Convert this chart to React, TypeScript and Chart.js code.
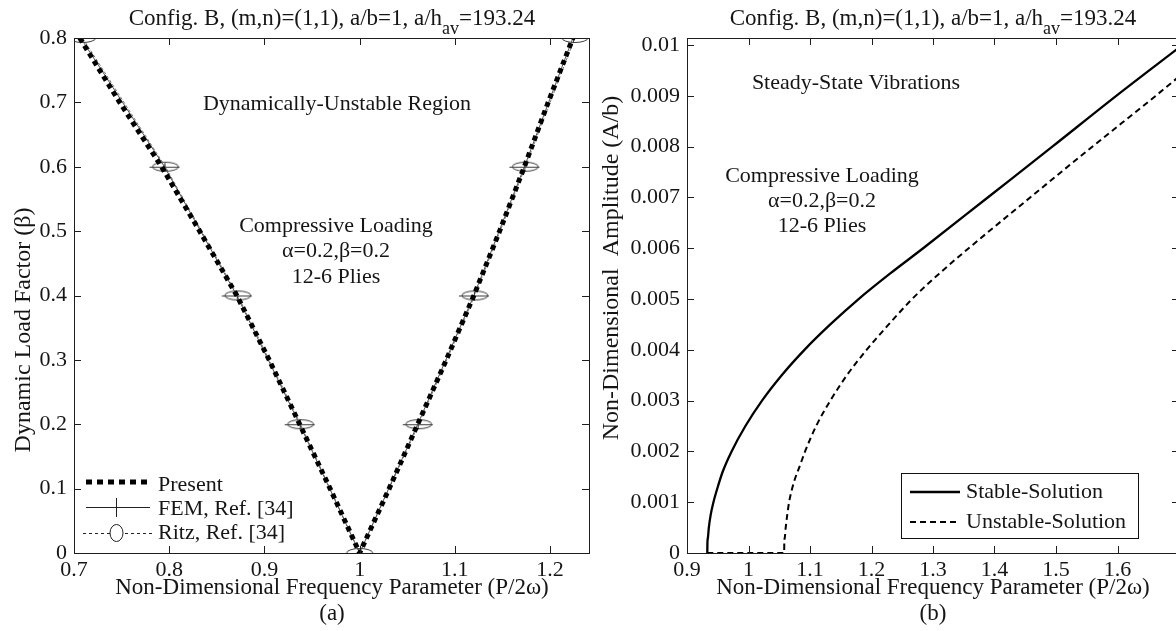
import React, { useEffect, useRef } from "react";
import { Chart, registerables } from "chart.js";

Chart.register(...registerables);

const SERIF = "'Liberation Serif', 'Times New Roman', Times, serif";

// ---------- Panel (a): instability boundaries ----------
const presentFreq = [0.706, 0.748, 0.792, 0.832, 0.871, 0.905, 0.937, 0.969, 1.0, 1.031, 1.061, 1.091, 1.12, 1.147, 1.173, 1.198, 1.224];
const presentBeta = [0.8, 0.7, 0.6, 0.5, 0.4, 0.3, 0.2, 0.1, 0.0, 0.1, 0.2, 0.3, 0.4, 0.5, 0.6, 0.7, 0.8];
const femFreq = [0.707, 0.795, 0.871, 0.937, 1.0, 1.061, 1.12, 1.173, 1.224];
const femBeta = [0.8, 0.6, 0.4, 0.2, 0.0, 0.2, 0.4, 0.6, 0.8];
const ritzFreq = [0.709, 0.796, 0.872, 0.938, 1.0, 1.062, 1.121, 1.174, 1.226];
const ritzBeta = [0.8, 0.6, 0.4, 0.2, 0.0, 0.2, 0.4, 0.6, 0.8];
const aXTicks = [0.7, 0.8, 0.9, 1.0, 1.1, 1.2];
const aXTickLabels = ["0.7", "0.8", "0.9", "1", "1.1", "1.2"];
const aYTicks = [0, 0.1, 0.2, 0.3, 0.4, 0.5, 0.6, 0.7, 0.8];
const aYTickLabels = ["0", "0.1", "0.2", "0.3", "0.4", "0.5", "0.6", "0.7", "0.8"];

// ---------- Panel (b): steady-state amplitude ----------
const stableFreq = [0.933, 0.9332, 0.934, 0.9355, 0.9385, 0.943, 0.95, 0.958, 0.9725, 0.995, 1.022, 1.054, 1.091, 1.133, 1.179, 1.23, 1.284, 1.389, 1.494, 1.598, 1.7];
const stableAmp = [0, 0.0002, 0.0003, 0.0005, 0.00075, 0.001, 0.0013, 0.0016, 0.002, 0.0025, 0.003, 0.0035, 0.004, 0.0045, 0.005, 0.0055, 0.006, 0.007, 0.008, 0.009, 0.00995];
const unstableFreq = [0.933, 1.058, 1.0582, 1.059, 1.0605, 1.063, 1.066, 1.074, 1.083, 1.092, 1.11, 1.133, 1.16, 1.192, 1.228, 1.266, 1.31, 1.358, 1.458, 1.559, 1.662, 1.7];
const unstableAmp = [0, 0, 0.0002, 0.0003, 0.0005, 0.00075, 0.001, 0.0014, 0.0017, 0.002, 0.0025, 0.003, 0.0035, 0.004, 0.0045, 0.005, 0.0055, 0.006, 0.007, 0.008, 0.009, 0.00938];
const bXTicks = [0.9, 1.0, 1.1, 1.2, 1.3, 1.4, 1.5, 1.6];
const bXTickLabels = ["0.9", "1", "1.1", "1.2", "1.3", "1.4", "1.5", "1.6"];
const bYTicks = [0, 0.001, 0.002, 0.003, 0.004, 0.005, 0.006, 0.007, 0.008, 0.009, 0.01];
const bYTickLabels = ["0", "0.001", "0.002", "0.003", "0.004", "0.005", "0.006", "0.007", "0.008", "0.009", "0.01"];

const pts = (xs: number[], ys: number[]) => xs.map((x, i) => ({ x, y: ys[i] }));

const FS = 22;
const INK = "#151515";

function text(ctx: CanvasRenderingContext2D, s: string, x: number, y: number, size = FS, align: CanvasTextAlign = "center") {
  ctx.font = `${size}px ${SERIF}`;
  ctx.fillStyle = INK;
  ctx.textAlign = align;
  ctx.textBaseline = "middle";
  ctx.fillText(s, x, y);
}

function drawTitle(ctx: CanvasRenderingContext2D, cx: number, baseY: number) {
  const p1 = "Config. B, (m,n)=(1,1), a/b=1, a/h";
  const sub = "av";
  const p3 = "=193.24";
  const big = 23;
  ctx.fillStyle = INK;
  ctx.textBaseline = "alphabetic";
  ctx.textAlign = "left";
  ctx.font = `${big}px ${SERIF}`;
  const w1 = ctx.measureText(p1).width;
  const w3 = ctx.measureText(p3).width;
  ctx.font = `${big - 5}px ${SERIF}`;
  const w2 = ctx.measureText(sub).width;
  let x = cx - (w1 + w2 + w3) / 2;
  ctx.font = `${big}px ${SERIF}`;
  ctx.fillText(p1, x, baseY);
  x += w1;
  ctx.font = `${big - 5}px ${SERIF}`;
  ctx.fillText(sub, x, baseY + 9);
  x += w2;
  ctx.font = `${big}px ${SERIF}`;
  ctx.fillText(p3, x, baseY);
}

type Spec = {
  offsetX: number;
  titleCx: number;
  xTitleCx: number;
  caption: string;
  yTitle: string;
  yTitleX: number;
  yTitleCy: number;
  notes: { t: string; x: number; y: number }[];
  legend: (ctx: CanvasRenderingContext2D) => void;
  xTicks: number[];
  yTicks: number[];
};

function panelPlugin(spec: Spec) {
  return {
    id: "panel",
    afterDraw(chart: any) {
      const ctx: CanvasRenderingContext2D = chart.ctx;
      const a = chart.chartArea;
      const xs = chart.scales.x;
      const ys = chart.scales.y;
      ctx.save();
      ctx.setLineDash([]);
      ctx.strokeStyle = "#1e1e1e";
      ctx.lineWidth = 1;
      ctx.strokeRect(Math.round(a.left) + 0.5, Math.round(a.top) + 0.5, Math.round(a.right - a.left), Math.round(a.bottom - a.top));
      const TL = 7;
      ctx.beginPath();
      spec.xTicks.forEach((v) => {
        const px = Math.round(xs.getPixelForValue(v)) + 0.5;
        ctx.moveTo(px, a.bottom);
        ctx.lineTo(px, a.bottom - TL);
        ctx.moveTo(px, a.top);
        ctx.lineTo(px, a.top + TL);
      });
      spec.yTicks.forEach((v) => {
        const py = Math.round(ys.getPixelForValue(v)) + 0.5;
        ctx.moveTo(a.left, py);
        ctx.lineTo(a.left + TL, py);
        ctx.moveTo(a.right, py);
        ctx.lineTo(a.right - TL, py);
      });
      ctx.stroke();

      ctx.translate(-spec.offsetX, 0);
      drawTitle(ctx, spec.titleCx, 25);
      text(ctx, "Non-Dimensional Frequency Parameter (P/2\u03c9)", spec.xTitleCx, 588, 23);
      text(ctx, spec.caption, spec.xTitleCx, 614, 23);
      ctx.save();
      ctx.translate(spec.yTitleX, spec.yTitleCy);
      ctx.rotate(-Math.PI / 2);
      text(ctx, spec.yTitle, 0, 0, 24);
      ctx.restore();
      spec.notes.forEach((n) => text(ctx, n.t, n.x, n.y));
      spec.legend(ctx);
      ctx.restore();
    },
  };
}

function legendA(ctx: CanvasRenderingContext2D) {
  ctx.save();
  ctx.strokeStyle = "#000";
  // Present
  ctx.lineWidth = 5;
  ctx.lineCap = "butt";
  ctx.setLineDash([6, 5]);
  ctx.beginPath();
  ctx.moveTo(86, 482);
  ctx.lineTo(150, 482);
  ctx.stroke();
  text(ctx, "Present", 158, 485, FS, "left");
  // FEM
  ctx.setLineDash([]);
  ctx.lineWidth = 1;
  ctx.strokeStyle = "#222";
  ctx.beginPath();
  ctx.moveTo(86, 507.5);
  ctx.lineTo(150, 507.5);
  ctx.moveTo(116.5, 498);
  ctx.lineTo(116.5, 517);
  ctx.stroke();
  text(ctx, "FEM, Ref. [34]", 158, 509, FS, "left");
  // Ritz
  ctx.setLineDash([3, 3]);
  ctx.beginPath();
  ctx.moveTo(83, 533.5);
  ctx.lineTo(152, 533.5);
  ctx.stroke();
  ctx.setLineDash([]);
  ctx.beginPath();
  ctx.ellipse(116.5, 533, 6.5, 8.5, 0, 0, Math.PI * 2);
  ctx.fillStyle = "#fff";
  ctx.fill();
  ctx.stroke();
  text(ctx, "Ritz, Ref. [34]", 158, 533, FS, "left");
  ctx.restore();
}

function legendB(ctx: CanvasRenderingContext2D) {
  ctx.save();
  ctx.fillStyle = "#fff";
  ctx.fillRect(901, 473, 237, 65);
  ctx.strokeStyle = "#111";
  ctx.lineWidth = 1;
  ctx.strokeRect(901.5, 473.5, 237, 65);
  ctx.strokeStyle = "#000";
  ctx.lineWidth = 2.5;
  ctx.beginPath();
  ctx.moveTo(910, 492);
  ctx.lineTo(960, 492);
  ctx.stroke();
  ctx.lineWidth = 2;
  ctx.setLineDash([6, 4]);
  ctx.beginPath();
  ctx.moveTo(910, 522);
  ctx.lineTo(960, 522);
  ctx.stroke();
  ctx.setLineDash([]);
  text(ctx, "Stable-Solution", 966, 492, FS, "left");
  text(ctx, "Unstable-Solution", 966, 522, FS, "left");
  ctx.restore();
}

function markerCanvas(kind: "fem" | "ritz") {
  const c = document.createElement("canvas");
  c.width = 32;
  c.height = 12;
  const g = c.getContext("2d")!;
  g.strokeStyle = "#3c3c3c";
  g.lineWidth = 1;
  g.beginPath();
  if (kind === "fem") {
    g.moveTo(1, 6.5);
    g.lineTo(31, 6.5);
    g.moveTo(16.5, 2);
    g.lineTo(16.5, 11);
  } else {
    g.ellipse(16, 6, 13, 4.5, 0, 0, Math.PI * 2);
  }
  g.stroke();
  return c;
}

function scaleCommon(ticks: number[], labels: string[], axis: "x" | "y", size: number, pad: number) {
  return {
    type: "linear",
    grid: { display: false, drawTicks: false },
    border: { display: false },
    afterBuildTicks: (s: any) => {
      s.ticks = ticks.map((v) => ({ value: v }));
    },
    afterFit: (s: any) => {
      if (axis === "x") s.height = size;
      else s.width = size;
    },
    ticks: {
      autoSkip: false,
      maxRotation: 0,
      padding: pad,
      color: INK,
      font: { family: SERIF, size: FS },
      callback: (_v: any, i: number) => labels[i],
    },
  };
}

export default function App() {
  const refA = useRef<HTMLCanvasElement>(null);
  const refB = useRef<HTMLCanvasElement>(null);

  useEffect(() => {
    const femMarker = markerCanvas("fem");
    const ritzMarker = markerCanvas("ritz");

    const chartA = new Chart(refA.current!, {
      type: "scatter",
      data: {
        datasets: [
          {
            label: "Present",
            data: pts(presentFreq, presentBeta),
            showLine: true,
            borderColor: "#000",
            borderWidth: 5,
            borderDash: [5, 4],
            borderCapStyle: "butt",
            pointRadius: 0,
          },
          {
            label: "FEM, Ref. [34]",
            data: pts(femFreq, femBeta),
            showLine: true,
            borderColor: "#555",
            borderWidth: 1,
            pointStyle: femMarker as any,
            pointRadius: 10,
          },
          {
            label: "Ritz, Ref. [34]",
            data: pts(ritzFreq, ritzBeta),
            showLine: true,
            borderColor: "#777",
            borderWidth: 1,
            borderDash: [3, 2],
            pointStyle: ritzMarker as any,
            pointRadius: 10,
          },
        ],
      },
      options: {
        animation: false,
        responsive: false,
        maintainAspectRatio: false,
        layout: { padding: { top: 38, right: 10, left: 0, bottom: 0 } },
        plugins: { legend: { display: false }, tooltip: { enabled: false } },
        scales: {
          x: { ...scaleCommon(aXTicks, aXTickLabels, "x", 78, 4), min: 0.7, max: 1.2409 },
          y: { ...scaleCommon(aYTicks, aYTickLabels, "y", 74, 7), min: 0, max: 0.8 },
        } as any,
      },
      plugins: [
        panelPlugin({
          offsetX: 0,
          titleCx: 332,
          xTitleCx: 332,
          caption: "(a)",
          yTitle: "Dynamic Load Factor (\u03b2)",
          yTitleX: 24,
          yTitleCy: 330,
          notes: [
            { t: "Dynamically-Unstable Region", x: 337, y: 104 },
            { t: "Compressive Loading", x: 336, y: 226 },
            { t: "\u03b1=0.2,\u03b2=0.2", x: 336, y: 251 },
            { t: "12-6 Plies", x: 336, y: 277 },
          ],
          legend: legendA,
          xTicks: aXTicks,
          yTicks: aYTicks,
        }),
      ],
    } as any);

    const chartB = new Chart(refB.current!, {
      type: "scatter",
      data: {
        datasets: [
          {
            label: "Stable-Solution",
            data: pts(stableFreq, stableAmp),
            showLine: true,
            borderColor: "#000",
            borderWidth: 2.3,
            cubicInterpolationMode: "monotone",
            pointRadius: 0,
          },
          {
            label: "Unstable-Solution",
            data: pts(unstableFreq, unstableAmp),
            showLine: true,
            borderColor: "#000",
            borderWidth: 2,
            borderDash: [6, 4],
            cubicInterpolationMode: "monotone",
            pointRadius: 0,
          },
        ],
      },
      options: {
        animation: false,
        responsive: false,
        maintainAspectRatio: false,
        layout: { padding: { top: 38, right: 21, left: 0, bottom: 0 } },
        plugins: { legend: { display: false }, tooltip: { enabled: false } },
        scales: {
          x: { ...scaleCommon(bXTicks, bXTickLabels, "x", 78, 4), min: 0.9, max: 1.7 },
          y: { ...scaleCommon(bYTicks, bYTickLabels, "y", 87, 7), min: 0, max: 0.01014 },
        } as any,
      },
      plugins: [
        panelPlugin({
          offsetX: 600,
          titleCx: 933,
          xTitleCx: 933,
          caption: "(b)",
          yTitle: "Non-Dimensional  Amplitude (A/b)",
          yTitleX: 612,
          yTitleCy: 268,
          notes: [
            { t: "Steady-State Vibrations", x: 856, y: 83 },
            { t: "Compressive Loading", x: 822, y: 176 },
            { t: "\u03b1=0.2,\u03b2=0.2", x: 822, y: 201 },
            { t: "12-6 Plies", x: 822, y: 226 },
          ],
          legend: legendB,
          xTicks: bXTicks,
          yTicks: bYTicks,
        }),
      ],
    } as any);

    return () => {
      chartA.destroy();
      chartB.destroy();
    };
  }, []);

  return (
    <div style={{ position: "absolute", left: 0, top: 0, width: 1176, height: 631, overflow: "hidden", background: "#fff" }}>
      <canvas ref={refA} width={600} height={631} style={{ position: "absolute", left: 0, top: 0, display: "block" }} />
      <canvas ref={refB} width={600} height={631} style={{ position: "absolute", left: 600, top: 0, display: "block" }} />
    </div>
  );
}
